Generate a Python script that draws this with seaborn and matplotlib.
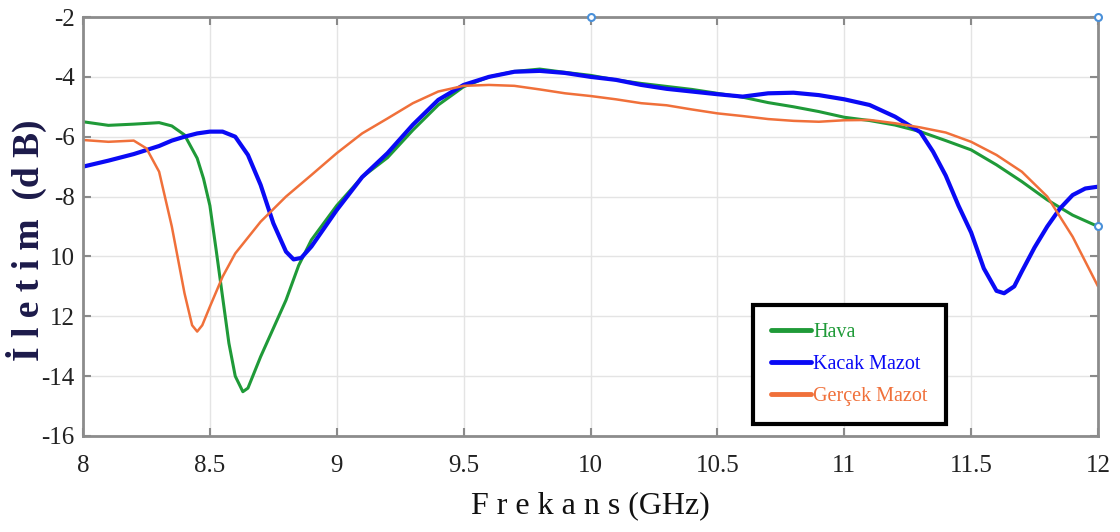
import numpy as np
import pandas as pd
import matplotlib
matplotlib.use("Agg")
import matplotlib.pyplot as plt
import seaborn as sns

# ---- data ----
hava_x = [8.0, 8.1, 8.2, 8.3, 8.35, 8.4, 8.45, 8.475, 8.5, 8.525, 8.55, 8.575, 8.6, 8.63, 8.65,
          8.7, 8.8, 8.85, 8.9, 9.0, 9.1, 9.2, 9.3, 9.4, 9.5, 9.6, 9.7, 9.8, 9.9, 10.0,
          10.1, 10.2, 10.3, 10.4, 10.5, 10.6, 10.7, 10.8, 10.9, 11.0, 11.1, 11.2, 11.3,
          11.4, 11.5, 11.6, 11.7, 11.8, 11.9, 12.0]
hava_y = [-5.5, -5.62, -5.58, -5.53, -5.64, -5.94, -6.72, -7.4, -8.3, -9.8, -11.35, -12.9, -14.0, -14.52, -14.4,
          -13.35, -11.46, -10.3, -9.45, -8.3, -7.35, -6.7, -5.78, -4.94, -4.33, -4.0, -3.82, -3.74, -3.85, -3.95,
          -4.1, -4.22, -4.32, -4.42, -4.55, -4.68, -4.86, -5.0, -5.16, -5.35, -5.46, -5.61, -5.83,
          -6.13, -6.44, -6.94, -7.5, -8.11, -8.62, -9.0]

kacak_x = [8.0, 8.1, 8.2, 8.3, 8.35, 8.4, 8.45, 8.5, 8.55, 8.6, 8.65, 8.7, 8.75, 8.8, 8.83, 8.86,
           8.9, 9.0, 9.1, 9.2, 9.3, 9.4, 9.5, 9.6, 9.7, 9.8, 9.9, 10.0, 10.1, 10.2, 10.3,
           10.4, 10.5, 10.6, 10.7, 10.8, 10.9, 11.0, 11.1, 11.2, 11.3, 11.35, 11.4, 11.45,
           11.5, 11.55, 11.6, 11.63, 11.67, 11.7, 11.75, 11.8, 11.85, 11.9, 11.95, 12.0]
kacak_y = [-7.0, -6.8, -6.58, -6.31, -6.13, -6.0, -5.89, -5.83, -5.83, -6.0, -6.61, -7.61, -8.89, -9.84, -10.1, -10.05,
           -9.67, -8.45, -7.35, -6.55, -5.6, -4.77, -4.27, -4.0, -3.83, -3.8, -3.87, -4.0, -4.1, -4.27, -4.4,
           -4.49, -4.58, -4.66, -4.55, -4.53, -4.61, -4.75, -4.94, -5.33, -5.85, -6.5, -7.3, -8.3,
           -9.2, -10.4, -11.15, -11.23, -11.0, -10.5, -9.7, -9.0, -8.4, -7.95, -7.73, -7.67]

gercek_x = [8.0, 8.1, 8.2, 8.25, 8.3, 8.35, 8.4, 8.43, 8.45, 8.47, 8.5, 8.55, 8.6, 8.7, 8.8, 8.9, 9.0,
            9.1, 9.2, 9.3, 9.4, 9.5, 9.6, 9.7, 9.8, 9.9, 10.0, 10.1, 10.2, 10.3, 10.4, 10.5,
            10.6, 10.7, 10.8, 10.9, 11.0, 11.1, 11.2, 11.3, 11.4, 11.5, 11.6, 11.7, 11.8,
            11.9, 12.0]
gercek_y = [-6.11, -6.17, -6.13, -6.39, -7.17, -9.0, -11.23, -12.3, -12.51, -12.3, -11.68, -10.68, -9.9, -8.84, -8.0, -7.28, -6.55,
            -5.89, -5.39, -4.88, -4.49, -4.3, -4.27, -4.3, -4.42, -4.55, -4.64, -4.75, -4.88, -4.95, -5.09, -5.22,
            -5.31, -5.41, -5.47, -5.5, -5.45, -5.44, -5.55, -5.69, -5.86, -6.17, -6.61, -7.17, -8.0,
            -9.34, -11.0]

cursor_x = [10.0, 12.0, 12.0]
cursor_y = [-2.0, -2.0, -9.0]

series_names = ["Hava", "Kacak Mazot", "Gerçek Mazot"]
series_colors = ["#1f9a38", "#0a0af5", "#f0703a"]
series_widths = [2.2, 3.0, 1.8]

x_ticks = [8, 8.5, 9, 9.5, 10, 10.5, 11, 11.5, 12]
x_ticklabels = ["8", "8.5", "9", "9.5", "10", "10.5", "11", "11.5", "12"]
y_ticks = [-16, -14, -12, -10, -8, -6, -4, -2]
y_ticklabels = ["-16", "-14", "12", "10", "-8", "-6", "-4", "-2"]

# ---- plotting ----
sns.set_theme(style="whitegrid")
plt.rcParams['font.family'] = ['Liberation Serif', 'DejaVu Serif']

fig = plt.figure(figsize=(11.2, 5.32), dpi=100)
ax = fig.add_axes([83 / 1120, 96 / 532, 1015 / 1120, 419 / 532])

frames = [
    pd.DataFrame({"f": hava_x, "v": hava_y}),
    pd.DataFrame({"f": kacak_x, "v": kacak_y}),
    pd.DataFrame({"f": gercek_x, "v": gercek_y}),
]
for df, name, col, lw in zip(frames, series_names, series_colors, series_widths):
    sns.lineplot(data=df, x="f", y="v", ax=ax, color=col, linewidth=lw,
                 label=name, sort=False, estimator=None)

ax.plot(cursor_x, cursor_y, linestyle="none", marker="o", markersize=5,
        markerfacecolor="white", markeredgecolor="#4a90d9", markeredgewidth=1.5,
        clip_on=False, zorder=5)

ax.set_xlim(8, 12)
ax.set_ylim(-16, -2)
ax.set_xticks(x_ticks, x_ticklabels)
ax.set_yticks(y_ticks, y_ticklabels)
ax.tick_params(axis="both", which="both", direction="in", length=6, width=1.5,
               color="#8a8a8a", labelsize=18, labelcolor="#222222",
               top=True, right=True, bottom=True, left=True)
ax.tick_params(axis="x", pad=14)
ax.tick_params(axis="y", pad=6)
ax.grid(True, color="#e4e4e4", linewidth=1.0)
for sp in ax.spines.values():
    sp.set_visible(True)
    sp.set_color("#8c8c8c")
    sp.set_linewidth(2.0)

ax.set_xlabel("F r e k a n s (GHz)", fontsize=23, color="#111111", labelpad=10)
ax.set_ylabel("")
fig.text(26 / 1120, 1 - 240 / 532, "İ l e t i m  (d B)", rotation=90,
         ha="center", va="center", fontsize=27, fontweight="bold",
         color="#1c1a4a")

leg = ax.legend(loc="lower left", bbox_to_anchor=(0.66, 0.028),
                frameon=True, fancybox=False, framealpha=1.0,
                prop={"family": "Liberation Serif", "size": 14.5},
                handlelength=2.0, handletextpad=0.1, borderpad=0.9,
                labelspacing=0.65, borderaxespad=0)
leg.get_frame().set_edgecolor("black")
leg.get_frame().set_linewidth(3.0)
for line in leg.get_lines():
    line.set_linewidth(3.5)
for txt, col in zip(leg.get_texts(), series_colors):
    txt.set_color(col)

fig.savefig("out.png", dpi=100, facecolor="white")
